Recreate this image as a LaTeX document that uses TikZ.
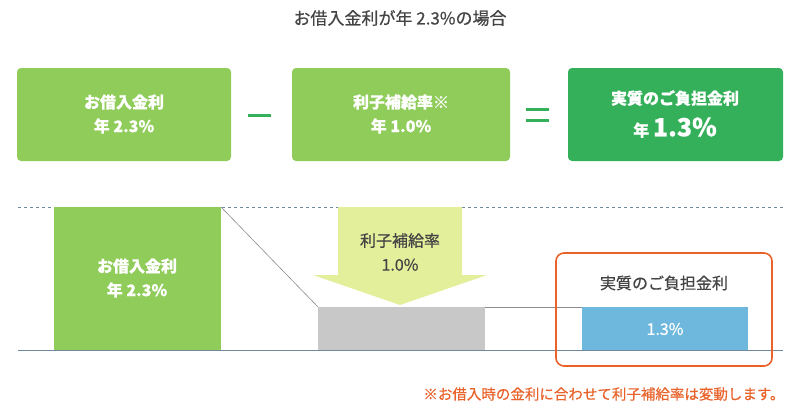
\documentclass[tikz,border=0pt]{standalone}
\usepackage{fontspec}
\setmainfont{Noto Sans CJK JP}[FakeBold=0.5]
\definecolor{lg}{HTML}{8FCC5A}
\definecolor{dg}{HTML}{34B05A}
\definecolor{ay}{HTML}{E4EF9C}
\definecolor{bl}{HTML}{6EB8DD}
\definecolor{gy}{HTML}{C8C8C8}
\definecolor{og}{HTML}{E8622A}
\definecolor{ln}{HTML}{6E8A9C}
\definecolor{tx}{HTML}{444444}
\begin{document}
\begin{tikzpicture}[x=1pt,y=-1pt,
  box/.style={fill=lg,rounded corners=4pt,text=white,font=\fontsize{16}{24}\selectfont\bfseries,align=center},
  txt/.style={text=tx,align=center,font=\fontsize{16}{24}\selectfont}]
\useasboundingbox (0,0) rectangle (800,410);
\node[txt,font=\fontsize{17}{20}\selectfont] (title) at (400,18) {お借入金利が年 2.3\%の場合};
\path[box] (17,68) rectangle (231,161);
\node[box,fill=none] (b1) at (124,114) {お借入金利\\年 2.3\%};
\path[box] (292,68) rectangle (510,161);
\node[box,fill=none] (b2) at (401,114) {利子補給率※\\年 1.0\%};
\path[box,fill=dg] (568,68) rectangle (783,161);
\node[box,fill=none,font=\fontsize{16}{32}\selectfont\bfseries] (b3) at (675,114) {実質のご負担金利\\年 {\fontsize{25}{28}\selectfont 1.3\%}};
\draw[dg,line width=3pt] (248,115) -- (271,115);
\draw[dg,line width=3pt] (526,109) -- (549,109) (526,120) -- (549,120);
\draw[ln,dashed,line width=0.8pt] (18,207) -- (783,207);
\fill[lg] (54,207) rectangle (221,350);
\node[box,fill=none] (l1) at (137,278) {お借入金利\\年 2.3\%};
\fill[gy] (318,307) rectangle (485,350);
\fill[bl] (582,307) rectangle (748,350);
\node[box,fill=none,font=\fontsize{16}{24}\selectfont] (l3) at (665,329) {1.3\%};
\draw[gy!70!black,line width=0.6pt] (221,207) -- (318,307);
\draw[gy!70!black,line width=0.6pt] (485,307) -- (582,307);
\fill[ay] (338,207) -- (462,207) -- (462,275) -- (487,275) -- (400,305) -- (313,275) -- (338,275) -- cycle;
\node[txt] (a) at (400,252) {利子補給率\\1.0\%};
\draw[ln,line width=0.8pt] (18,350) -- (783,350);
\draw[og,line width=1.6pt,rounded corners=8pt] (556,253) rectangle (772,366);
\node[txt] (l2) at (664,283) {実質のご負担金利};
\node[text=og,anchor=east,font=\fontsize{14.5}{16}\selectfont] (note) at (788,394) {※お借入時の金利に合わせて利子補給率は変動します。};
\end{tikzpicture}
\end{document}
